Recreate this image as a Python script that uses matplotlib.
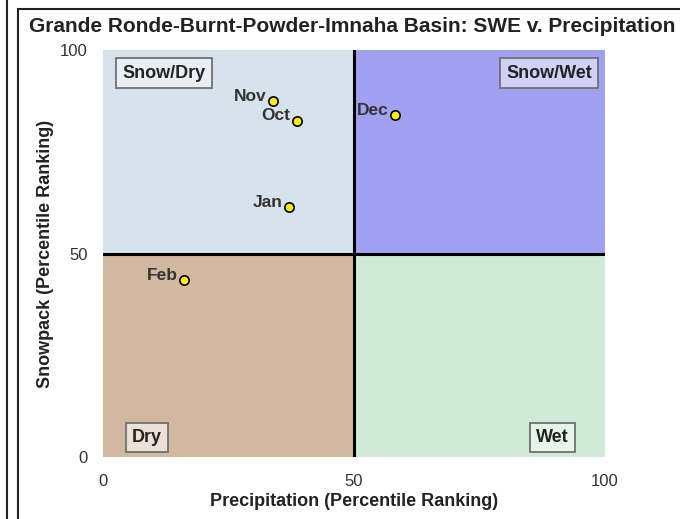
import matplotlib.pyplot as plt
from matplotlib.patches import Rectangle
from matplotlib.lines import Line2D

months = ['Nov', 'Oct', 'Dec', 'Jan', 'Feb']
precip = [33.9, 38.6, 58.2, 37.1, 16.1]
snowpack = [87.5, 82.6, 84.0, 61.4, 43.5]

quadrants = ['Snow/Dry', 'Snow/Wet', 'Dry', 'Wet']
quad_colors = ['#d6e2ec', '#a1a1f2', '#d3b8a0', '#cfebd7']
label_colors = ['#e8eef4', '#d0d0f8', '#ede0d6', '#e6f5ea']
ticks = [0, 50, 100]

plt.rcParams['font.family'] = ['Liberation Sans', 'DejaVu Sans']

fig = plt.figure(figsize=(6.8, 5.19), dpi=100)
ax = fig.add_axes([103 / 680, 1 - 457 / 519, 502 / 680, 407 / 519])

origins = [(0, 50), (50, 50), (0, 0), (50, 0)]
for (x0, y0), c in zip(origins, quad_colors):
    ax.add_patch(Rectangle((x0, y0), 50, 50, facecolor=c, edgecolor='none', zorder=0))

ax.axvline(50, color='black', lw=2.2, zorder=2)
ax.axhline(50, color='black', lw=2.2, zorder=2)

ax.scatter(precip, snowpack, s=45, color='#ffee00', edgecolor='black', linewidth=1.2, zorder=4)
for m, x, y in zip(months, precip, snowpack):
    ax.annotate(m, (x, y), xytext=(-4.5, 3.5), textcoords='offset points', ha='right', va='center',
                fontsize=12.5, fontweight='bold', color='#333333', zorder=5)

label_pos = [(3.8, 94.3, 'left'), (97.4, 94.3, 'right'),
             (5.8, 4.8, 'left'), (92.8, 4.8, 'right')]
for q, lc, (x, y, ha) in zip(quadrants, label_colors, label_pos):
    ax.text(x, y, q, ha=ha, va='center', fontsize=13, fontweight='bold', color='#222222', zorder=5,
            bbox=dict(boxstyle='square,pad=0.35', facecolor=lc, edgecolor='#707070', lw=1.3))

ax.set_xlim(0, 100)
ax.set_ylim(0, 100)
ax.set_xticks(ticks)
ax.set_yticks(ticks)
ax.tick_params(length=0, labelsize=12, labelcolor='#333333')
ax.tick_params(axis='x', pad=12)
ax.tick_params(axis='y', pad=11)
for s in ax.spines.values():
    s.set_visible(False)

ax.set_xlabel('Precipitation (Percentile Ranking)', fontsize=13, fontweight='bold', color='#222222', labelpad=3)
ax.set_ylabel('Snowpack (Percentile Ranking)', fontsize=13, fontweight='bold', color='#222222', labelpad=4)

fig.text(352 / 680, 1 - 27 / 519, 'Grande Ronde-Burnt-Powder-Imnaha Basin: SWE v. Precipitation',
         ha='center', va='center', fontsize=15, fontweight='bold', color='#222222')

# outer frame lines
fig.add_artist(Line2D([7 / 680, 7 / 680], [0, 1], color='#222222', lw=1.5))
fig.add_artist(Line2D([18 / 680, 18 / 680], [0, 1 - 9 / 519], color='#222222', lw=1.5))
fig.add_artist(Line2D([18 / 680, 1], [1 - 9 / 519, 1 - 9 / 519], color='#222222', lw=1.5))

fig.savefig('out.png', dpi=100)
